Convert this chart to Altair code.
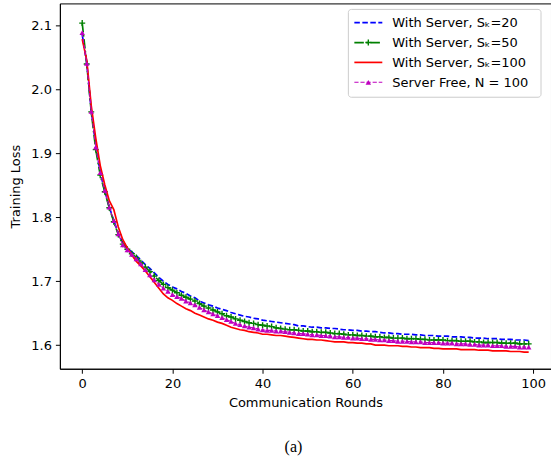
import altair as alt
import pandas as pd

rounds = list(range(100))

loss_s20 = [
    2.086, 2.042, 1.968, 1.913, 1.870, 1.842, 1.816, 1.795, 1.775, 1.760,
    1.752, 1.746, 1.740, 1.733, 1.726, 1.720, 1.713, 1.706, 1.700, 1.695,
    1.691, 1.688, 1.684, 1.681, 1.677, 1.674, 1.669, 1.666, 1.663, 1.661,
    1.658, 1.656, 1.654, 1.651, 1.649, 1.647, 1.645, 1.644, 1.642, 1.641,
    1.639, 1.638, 1.637, 1.636, 1.635, 1.634, 1.633, 1.632, 1.630, 1.630,
    1.629, 1.628, 1.628, 1.627, 1.627, 1.626, 1.626, 1.625, 1.624, 1.624,
    1.623, 1.623, 1.622, 1.622, 1.621, 1.621, 1.620, 1.619, 1.619, 1.618,
    1.618, 1.617, 1.617, 1.617, 1.616, 1.616, 1.615, 1.615, 1.615, 1.614,
    1.614, 1.614, 1.613, 1.613, 1.613, 1.612, 1.612, 1.611, 1.611, 1.611,
    1.610, 1.610, 1.610, 1.609, 1.609, 1.609, 1.608, 1.608, 1.608, 1.607,
]

loss_s50 = [
    2.104, 2.040, 1.965, 1.906, 1.866, 1.840, 1.815, 1.793, 1.773, 1.758,
    1.750, 1.743, 1.737, 1.729, 1.722, 1.715, 1.708, 1.701, 1.695, 1.690,
    1.686, 1.682, 1.678, 1.675, 1.672, 1.669, 1.665, 1.661, 1.658, 1.655,
    1.652, 1.649, 1.646, 1.644, 1.641, 1.639, 1.637, 1.635, 1.634, 1.632,
    1.631, 1.630, 1.629, 1.627, 1.626, 1.625, 1.624, 1.624, 1.623, 1.622,
    1.622, 1.621, 1.621, 1.620, 1.620, 1.619, 1.618, 1.618, 1.617, 1.616,
    1.616, 1.615, 1.615, 1.614, 1.614, 1.613, 1.613, 1.612, 1.612, 1.611,
    1.611, 1.611, 1.610, 1.610, 1.610, 1.609, 1.609, 1.608, 1.608, 1.608,
    1.608, 1.607, 1.607, 1.607, 1.606, 1.606, 1.606, 1.605, 1.605, 1.604,
    1.604, 1.604, 1.604, 1.603, 1.603, 1.603, 1.603, 1.602, 1.602, 1.602,
]

loss_s100 = [
    2.079, 2.046, 1.975, 1.924, 1.881, 1.851, 1.826, 1.812, 1.785, 1.765,
    1.752, 1.741, 1.731, 1.724, 1.716, 1.707, 1.698, 1.689, 1.680, 1.674,
    1.670, 1.665, 1.661, 1.657, 1.654, 1.650, 1.647, 1.644, 1.641, 1.639,
    1.636, 1.634, 1.631, 1.628, 1.626, 1.624, 1.623, 1.621, 1.620, 1.619,
    1.617, 1.617, 1.616, 1.615, 1.615, 1.614, 1.613, 1.612, 1.611, 1.610,
    1.609, 1.609, 1.608, 1.608, 1.607, 1.606, 1.605, 1.605, 1.605, 1.604,
    1.604, 1.603, 1.603, 1.602, 1.602, 1.600, 1.600, 1.600, 1.599, 1.599,
    1.599, 1.598, 1.598, 1.597, 1.597, 1.596, 1.596, 1.596, 1.595, 1.595,
    1.594, 1.594, 1.594, 1.594, 1.593, 1.593, 1.593, 1.593, 1.592, 1.592,
    1.592, 1.591, 1.591, 1.591, 1.591, 1.590, 1.590, 1.590, 1.589, 1.589,
]

loss_free = [
    2.089, 2.041, 1.966, 1.910, 1.870, 1.842, 1.816, 1.795, 1.774, 1.757,
    1.749, 1.742, 1.735, 1.727, 1.718, 1.710, 1.702, 1.695, 1.689, 1.684,
    1.679, 1.676, 1.673, 1.669, 1.666, 1.663, 1.659, 1.655, 1.652, 1.649,
    1.646, 1.643, 1.640, 1.637, 1.634, 1.632, 1.630, 1.628, 1.627, 1.625,
    1.624, 1.623, 1.623, 1.622, 1.622, 1.621, 1.620, 1.619, 1.618, 1.618,
    1.617, 1.616, 1.616, 1.615, 1.615, 1.614, 1.613, 1.613, 1.612, 1.612,
    1.611, 1.611, 1.610, 1.610, 1.609, 1.609, 1.608, 1.608, 1.607, 1.607,
    1.606, 1.606, 1.606, 1.605, 1.605, 1.605, 1.604, 1.604, 1.604, 1.604,
    1.603, 1.603, 1.603, 1.602, 1.602, 1.602, 1.601, 1.601, 1.600, 1.600,
    1.600, 1.599, 1.599, 1.599, 1.598, 1.598, 1.598, 1.597, 1.597, 1.597,
]

labels = [
    "With Server, S\u2096=20",
    "With Server, S\u2096=50",
    "With Server, S\u2096=100",
    "Server Free, N = 100",
]
x_ticks = [0, 20, 40, 60, 80, 100]
y_ticks = [1.6, 1.7, 1.8, 1.9, 2.0, 2.1]

FONT = "DejaVu Sans"
W, H = 492, 366

styles = [
    dict(color="#0000ff", dash=[5.5, 2.5], width=1.7, marker=None),
    dict(color="#008000", dash=[9.5, 2.5, 1.6, 2.5], width=1.7, marker="plus"),
    dict(color="#ff0000", dash=None, width=1.7, marker=None),
    dict(color="#bf00bf", dash=[4.2, 1.9], width=1.1, marker="triangle"),
]
series_values = [loss_s20, loss_s50, loss_s100, loss_free]

xs = alt.Scale(domain=[-4.95, 103.95], nice=False, zero=False)
ys = alt.Scale(domain=[1.563, 2.1348], nice=False, zero=False)

x_enc = alt.X("round:Q", scale=xs, axis=alt.Axis(values=x_ticks, title="Communication Rounds"))
y_enc = alt.Y("loss:Q", scale=ys, axis=alt.Axis(values=y_ticks, format=".1f", title="Training Loss"))

PLUS = "M-1,0L1,0M0,-1L0,1"

layers = []
for vals, st in zip(series_values, styles):
    df = pd.DataFrame({"round": rounds, "loss": vals})
    line_kw = dict(color=st["color"], strokeWidth=st["width"])
    if st["dash"]:
        line_kw["strokeDash"] = st["dash"]
    base = alt.Chart(df).encode(x=x_enc, y=y_enc)
    layers.append(base.mark_line(**line_kw))
    if st["marker"] == "plus":
        layers.append(base.mark_point(shape=PLUS, filled=False, color=st["color"],
                                      strokeWidth=1.4, size=36, opacity=1))
    elif st["marker"] == "triangle":
        layers.append(base.mark_point(shape="triangle-up", filled=True, color=st["color"],
                                      size=30, opacity=1))

# legend box
box_df = pd.DataFrame({"k": [0]})
layers.append(
    alt.Chart(box_df).mark_rect(fill="white", fillOpacity=0.8, stroke="#cccccc",
                                strokeWidth=1, cornerRadius=3).encode(
        x=alt.value(289), x2=alt.value(482), y=alt.value(6), y2=alt.value(94))
)
for i, (lab, st) in enumerate(zip(labels, styles)):
    ly = 19.3 + 19.9 * i
    ldf = pd.DataFrame({"label": [lab]})
    rule_kw = dict(color=st["color"], strokeWidth=st["width"])
    if st["dash"]:
        rule_kw["strokeDash"] = st["dash"]
    lb = alt.Chart(ldf)
    layers.append(lb.mark_rule(**rule_kw).encode(
        x=alt.value(295), x2=alt.value(323), y=alt.value(ly)))
    if st["marker"] == "plus":
        layers.append(lb.mark_point(shape=PLUS, filled=False, color=st["color"],
                                    strokeWidth=1.4, size=36, opacity=1).encode(
            x=alt.value(309), y=alt.value(ly)))
    elif st["marker"] == "triangle":
        layers.append(lb.mark_point(shape="triangle-up", filled=True, color=st["color"],
                                    size=30, opacity=1).encode(
            x=alt.value(309), y=alt.value(ly)))
    layers.append(lb.mark_text(align="left", baseline="middle", font=FONT, fontSize=13,
                               color="black").encode(
        x=alt.value(333), y=alt.value(ly + 0.5), text="label:N"))

# caption
layers.append(
    alt.Chart(box_df).mark_text(font="Liberation Serif", fontSize=16, color="black",
                                align="center", baseline="middle").encode(
        x=alt.value(234), y=alt.value(444), text=alt.value("(a)"))
)

chart = alt.layer(*layers).properties(
    width=W, height=H,
    autosize=alt.AutoSizeParams(type="none"),
    padding={"left": 60, "top": 3, "right": 0, "bottom": 92},
).configure_view(
    stroke="black", strokeWidth=1
).configure_axis(
    grid=False,
    domainColor="black", domainWidth=1,
    tickColor="black", tickWidth=1, tickSize=4.5,
    labelFont=FONT, labelFontSize=13, labelColor="black", labelPadding=4,
    titleFont=FONT, titleFontSize=13, titleFontWeight="normal", titleColor="black",
).configure_axisX(titlePadding=6).configure_axisY(titlePadding=8)

chart.save("out.html", embed_options={"renderer": "svg", "actions": False})
